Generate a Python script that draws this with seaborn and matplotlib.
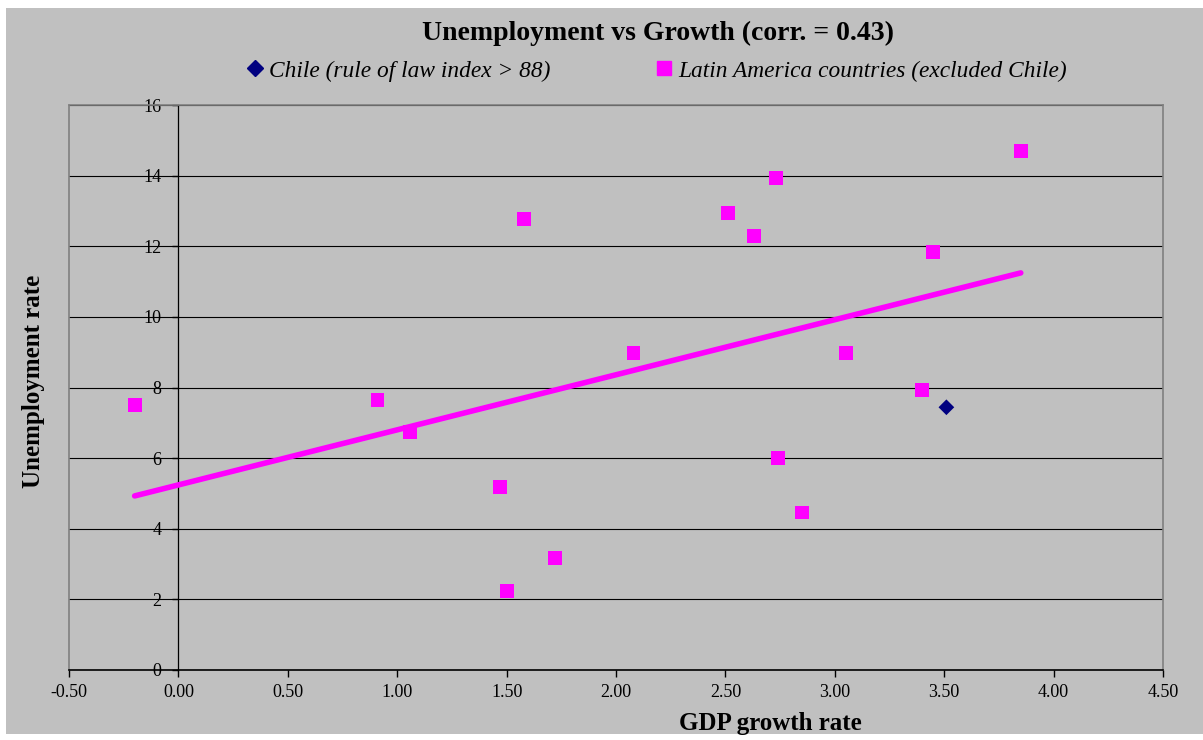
import pandas as pd
import numpy as np
import matplotlib
matplotlib.use("Agg")
import matplotlib.pyplot as plt
from matplotlib.patches import Rectangle
from matplotlib.lines import Line2D
from matplotlib.ticker import FormatStrFormatter
import seaborn as sns

# values
latam_growth = [-0.20, 0.91, 1.06, 1.47, 1.72, 1.50, 1.58, 2.08, 2.73,
                2.51, 2.63, 3.05, 3.40, 2.74, 2.85, 3.85, 3.45]
latam_unemp = [7.50, 7.64, 6.74, 5.19, 3.18, 2.23, 12.77, 8.98, 13.94,
               12.95, 12.29, 8.98, 7.93, 6.00, 4.46, 14.70, 11.84]
chile_growth = [3.51]
chile_unemp = [7.44]

x_ticks = [-0.5, 0.0, 0.5, 1.0, 1.5, 2.0, 2.5, 3.0, 3.5, 4.0, 4.5]
y_ticks = [0, 2, 4, 6, 8, 10, 12, 14, 16]

latam_label = "Latin America countries (excluded Chile)"
chile_label = "Chile (rule of law index > 88)"

df = pd.DataFrame({
    "growth": latam_growth + chile_growth,
    "unemp": latam_unemp + chile_unemp,
    "group": [latam_label] * len(latam_growth) + [chile_label] * len(chile_growth),
})

sns.set_style("white", {"text.color": "black", "axes.labelcolor": "black",
                        "xtick.color": "black", "ytick.color": "black"})
plt.rcParams["font.family"] = ["Liberation Serif", "DejaVu Serif"]

BG = "#C0C0C0"
PINK = "#FF00FF"
NAVY = "#000080"

fig = plt.figure(figsize=(12.03, 7.40), dpi=100)
fig.patch.set_facecolor("white")
fig.patches.append(Rectangle((6 / 1203, 1 - 734 / 740), 1197 / 1203, 726 / 740,
                             transform=fig.transFigure, facecolor=BG,
                             edgecolor="none", zorder=-1))

ax = fig.add_axes([69 / 1203, 1 - 670 / 740, 1094 / 1203, 565 / 740])
ax.set_facecolor(BG)

# regression line on Latin America points
sns.regplot(data=df[df["group"] == latam_label], x="growth", y="unemp",
            scatter=False, ci=None, truncate=True, ax=ax,
            line_kws={"color": PINK, "lw": 4, "solid_capstyle": "round", "zorder": 3})

sns.scatterplot(data=df, x="growth", y="unemp", hue="group", style="group",
                markers={latam_label: "s", chile_label: "D"},
                palette={latam_label: PINK, chile_label: NAVY},
                s=100, linewidth=0, legend=False, ax=ax, zorder=4)
# slightly smaller diamond for Chile
ax.collections[-1].set_sizes([100] * len(latam_growth) + [64] * len(chile_growth))

ax.set_xlim(-0.5, 4.5)
ax.set_ylim(0, 16)
ax.set_xticks(x_ticks)
ax.set_yticks(y_ticks)
ax.xaxis.set_major_formatter(FormatStrFormatter("%.2f"))

ax.yaxis.grid(True, color="black", lw=0.8)
ax.xaxis.grid(False)
ax.set_axisbelow(True)

for side in ["top", "right"]:
    ax.spines[side].set_color("#808080")
    ax.spines[side].set_linewidth(1.2)
ax.spines["bottom"].set_color("black")
ax.spines["bottom"].set_linewidth(1.2)
ax.spines["left"].set_position(("data", 0))
ax.spines["left"].set_color("black")
ax.spines["left"].set_linewidth(0.9)
ax.axvline(-0.5, color="#808080", lw=1.2, clip_on=False, zorder=2)

ax.tick_params(axis="x", direction="out", length=5, width=1, color="black",
               labelsize=13, pad=5, bottom=True)
ax.tick_params(axis="y", direction="out", length=4, width=1, color="black",
               labelsize=13, pad=8, left=True)

ax.set_xlabel("GDP growth rate", fontsize=18, fontweight="bold")
ax.set_ylabel("Unemployment rate", fontsize=18, fontweight="bold")
ax.xaxis.set_label_coords(0.641, -0.075)
ax.yaxis.set_label_coords(-0.022, 0.511)

fig.text(658 / 1203, 1 - 33 / 740, "Unemployment vs Growth (corr. = 0.43)",
         ha="center", va="center", fontsize=20, fontweight="bold")

handles = [
    Line2D([], [], marker="D", color=NAVY, linestyle="none", markersize=8),
    Line2D([], [], marker="s", color=PINK, linestyle="none", markersize=10),
]
fig.legend(handles, [chile_label, latam_label], loc="center",
           bbox_to_anchor=(657 / 1203, 1 - 71 / 740), ncol=2, frameon=False,
           prop={"style": "italic", "size": 16.8}, handlelength=0.7,
           handletextpad=0.25, columnspacing=4.5)

fig.savefig("out.png", dpi=100)
